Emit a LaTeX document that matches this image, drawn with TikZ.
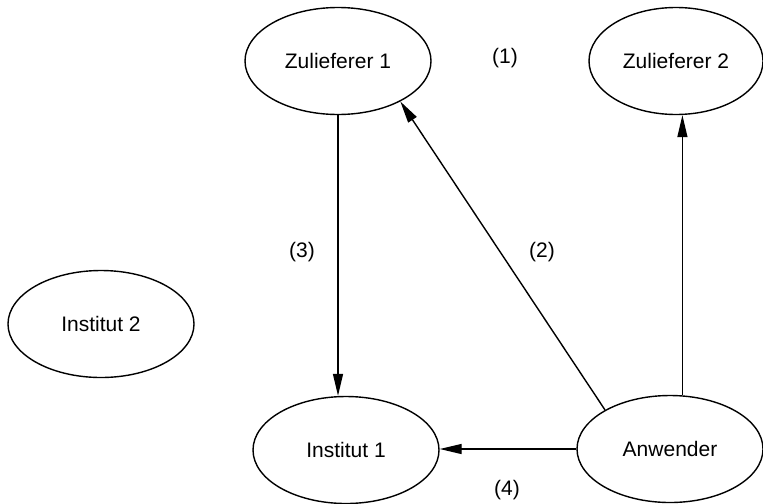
\documentclass[tikz,border=0pt]{standalone}
\usepackage{fontspec}
\setmainfont{Liberation Sans}
\usetikzlibrary{shapes.geometric, arrows.meta}
\tikzset{
  partner/.style={
    draw,
    ellipse,
    line width=0.7pt,
    minimum width=93pt,
    minimum height=53.5pt,
    inner sep=0pt,
    font=\fontsize{10.5}{12}\selectfont
  },
  flow/.style={
    line width=0.7pt,
    -{Triangle[length=11pt, width=5pt]}
  },
  tag/.style={
    font=\fontsize{10.5}{12}\selectfont
  }
}

\begin{document}
\begin{tikzpicture}[x=0.5pt, y=-0.5pt]
    \useasboundingbox (0,0) rectangle (763,503);
    \node[partner] (zul1) at (338,61) {Zulieferer 1};
    \node[partner, minimum width=87pt] (zul2) at (676,61) {Zulieferer 2};
    \node[partner] (inst2) at (101,324) {Institut 2};
    \node[partner] (inst1) at (346,450) {Institut 1};
    \node[partner] (anw) at (670,449) {Anwender};

    \node[tag] (l1) at (505,58) {(1)};
    \node[tag] (l2) at (542,252) {(2)};
    \node[tag] (l3) at (302,252) {(3)};
    \node[tag] (l4) at (507,490) {(4)};

    \draw[flow] (zul1.south) -- (zul1.south |- inst1.north);
    \draw[flow] (anw.149) -- (zul1.-33);
    \draw[flow] (anw.77) -- (anw.77 |- zul2.south);
    \draw[flow] (anw.west) -- (anw.west -| inst1.east);
\end{tikzpicture}
\end{document}
